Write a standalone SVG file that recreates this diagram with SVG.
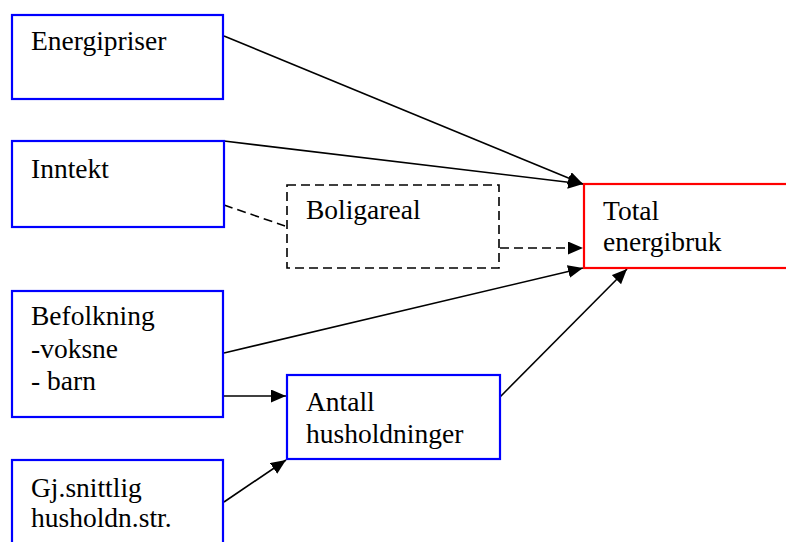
<svg xmlns="http://www.w3.org/2000/svg" width="786" height="542" viewBox="0 0 786 542">
<defs>
<marker id="ah" markerUnits="userSpaceOnUse" markerWidth="16" markerHeight="14" refX="15" refY="6.5" orient="auto">
<path d="M0,0 L15,6.5 L0,13 z" fill="#000"/>
</marker>
<style>
.box{fill:#fff;stroke:#0000ff;stroke-width:2.2}
.red{fill:#fff;stroke:#ff0000;stroke-width:2.2}
.dbox{fill:#fff;stroke:#000;stroke-width:1.6;stroke-dasharray:9,5}
.t{font-family:"Liberation Serif","Times New Roman",serif;font-size:27.5px;fill:#000}
.c{stroke:#000;stroke-width:1.6;fill:none}
.cd{stroke:#000;stroke-width:1.6;fill:none;stroke-dasharray:9,5}
</style>
</defs>
<rect width="786" height="542" fill="#fff"/>
<g id="connectors">
<line class="c" x1="224" y1="36" x2="583" y2="184" marker-end="url(#ah)"/>
<line class="c" x1="224" y1="141" x2="583" y2="184" marker-end="url(#ah)"/>
<line class="cd" x1="224" y1="205" x2="285" y2="226"/>
<line class="cd" x1="500" y1="248" x2="583" y2="248" marker-end="url(#ah)"/>
<line class="c" x1="224" y1="353" x2="583" y2="268" marker-end="url(#ah)"/>
<line class="c" x1="224" y1="396" x2="286" y2="396" marker-end="url(#ah)"/>
<line class="c" x1="224" y1="502" x2="286" y2="460" marker-end="url(#ah)"/>
<line class="c" x1="500" y1="397" x2="627" y2="269" marker-end="url(#ah)"/>
</g>
<g id="energipriser">
<rect class="box" x="12" y="15" width="211" height="84"/>
<text class="t" x="31" y="50">Energipriser</text>
</g>
<g id="inntekt">
<rect class="box" x="12" y="141" width="212" height="86"/>
<text class="t" x="31" y="178">Inntekt</text>
</g>
<g id="boligareal">
<rect class="dbox" x="287" y="185" width="212" height="83"/>
<text class="t" x="306" y="219">Boligareal</text>
</g>
<g id="total">
<rect class="red" x="584" y="184" width="220" height="84"/>
<text class="t" x="603" y="220">Total</text>
<text class="t" x="603" y="251">energibruk</text>
</g>
<g id="befolkning">
<rect class="box" x="12" y="291" width="211" height="126"/>
<text class="t" x="31" y="325">Befolkning</text>
<text class="t" x="31" y="358">-voksne</text>
<text class="t" x="31" y="390">- barn</text>
</g>
<g id="antall">
<rect class="box" x="287" y="375" width="213" height="84"/>
<text class="t" x="306" y="411">Antall</text>
<text class="t" x="306" y="443">husholdninger</text>
</g>
<g id="gjsnitt">
<rect class="box" x="12" y="460" width="211" height="100"/>
<text class="t" x="31" y="497">Gj.snittlig</text>
<text class="t" x="31" y="527">husholdn.str.</text>
</g>
</svg>
